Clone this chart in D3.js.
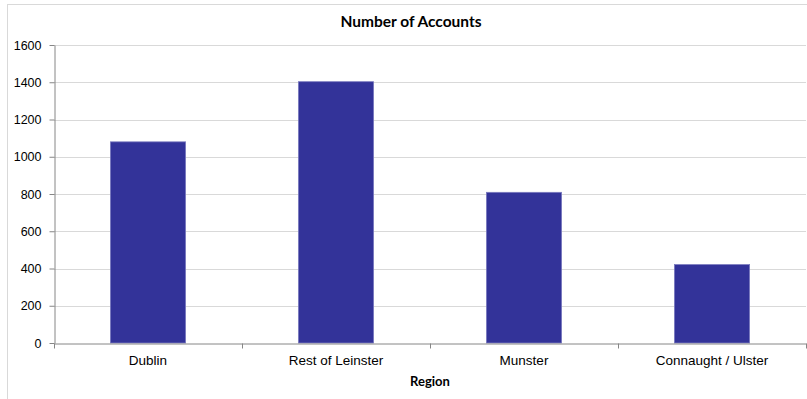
<!DOCTYPE html>
<html>
<head>
<meta charset="utf-8">
<script src="https://cdn.jsdelivr.net/npm/d3@7"></script>
<style>
  html, body { margin: 0; padding: 0; background: #fff; }
  svg { display: block; font-family: Lato, "Open Sans", sans-serif; }
</style>
</head>
<body>
<svg id="chart" width="807" height="399"></svg>
<script>
// Accounts per region
const regions = ["Dublin", "Rest of Leinster", "Munster", "Connaught / Ulster"];
const accounts = [1080, 1403, 809, 421];
const yTicks = [0, 200, 400, 600, 800, 1000, 1200, 1400, 1600];

const title = "Number of Accounts";
const xTitle = "Region";

const svg = d3.select("#chart");
const W = 807, H = 399;
const m = { left: 54, right: 1, top: 45, bottom: 56 };

// outer chart frame
svg.append("rect")
  .attr("x", 7.5).attr("y", 4.5)
  .attr("width", W + 10).attr("height", H + 10)
  .attr("fill", "none").attr("stroke", "#d9d9d9");

const x = d3.scaleBand()
  .domain(regions)
  .range([m.left, W - m.right])
  .paddingInner(0.6)
  .paddingOuter(0.3);

const y = d3.scaleLinear()
  .domain([0, 1600])
  .range([H - m.bottom, m.top]);

// horizontal gridlines
svg.append("g")
  .selectAll("line")
  .data(yTicks.filter(d => d > 0))
  .join("line")
  .attr("x1", m.left).attr("x2", W - m.right)
  .attr("y1", d => Math.round(y(d)) + 0.5)
  .attr("y2", d => Math.round(y(d)) + 0.5)
  .attr("stroke", "#d9d9d9");

// bars
svg.append("g")
  .selectAll("rect")
  .data(regions)
  .join("rect")
  .attr("x", d => x(d))
  .attr("width", x.bandwidth())
  .attr("y", (d, i) => y(accounts[i]))
  .attr("height", (d, i) => y(0) - y(accounts[i]))
  .attr("fill", "#333399")
  .attr("stroke", "#7a7abf")
  .attr("stroke-width", 0.8);

// y axis
const yAxis = svg.append("g")
  .attr("transform", `translate(${m.left + 0.5},0)`)
  .call(d3.axisLeft(y).tickValues(yTicks).tickFormat(d3.format("d"))
    .tickSize(5).tickPadding(8).tickSizeOuter(0));
yAxis.select(".domain").attr("stroke", "#868686");
yAxis.selectAll(".tick line").attr("stroke", "#868686");
yAxis.selectAll(".tick text")
  .attr("fill", "#000")
  .style("font-size", "12.5px");

// x axis: labels centred on each band
const xAxis = svg.append("g")
  .attr("transform", `translate(0,${Math.round(y(0)) + 0.5})`)
  .call(d3.axisBottom(x).tickSize(0).tickPadding(12).tickSizeOuter(0));
xAxis.select(".domain").attr("stroke", "#868686");
xAxis.selectAll(".tick text")
  .attr("fill", "#000")
  .style("font-size", "13.5px");

// x tick marks at the boundaries between categories
const bounds = d3.range(regions.length + 1).map(i => x.range()[0] + i * x.step());
xAxis.append("g")
  .selectAll("line")
  .data(bounds)
  .join("line")
  .attr("x1", d => Math.round(d) + 0.5).attr("x2", d => Math.round(d) + 0.5)
  .attr("y1", 0).attr("y2", 5)
  .attr("stroke", "#868686");

// chart title
svg.append("text")
  .attr("x", 411).attr("y", 27)
  .attr("text-anchor", "middle")
  .style("font-size", "15.5px")
  .style("font-weight", "bold")
  .text(title);

// x axis title
svg.append("text")
  .attr("x", x.range()[0] + (x.range()[1] - x.range()[0]) / 2)
  .attr("y", 386)
  .attr("text-anchor", "middle")
  .style("font-size", "13px")
  .style("font-weight", "bold")
  .text(xTitle);
</script>
</body>
</html>
